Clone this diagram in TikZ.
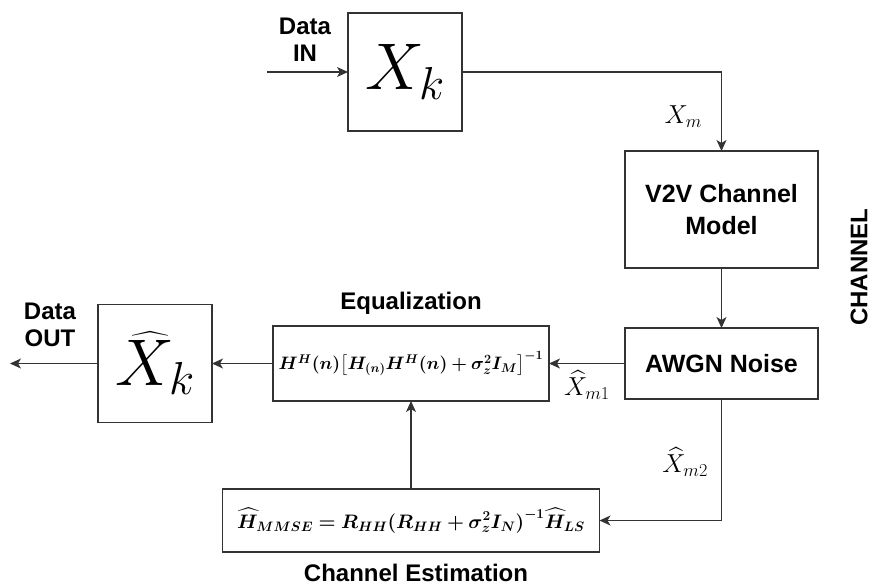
\documentclass[tikz,border=0pt]{standalone}
\usepackage{fix-cm}
\usepackage{amsmath}
\usepackage{bm}
\usepackage{fontspec}
\setmainfont{Liberation Sans}
\usetikzlibrary{arrows.meta, positioning}

\begin{document}
\begin{tikzpicture}[x=1pt, y=1pt,
    >={Stealth[length=11pt, width=10pt, inset=3pt]},
    blk/.style 2 args={
        draw=black!80, line width=1.2pt,
        minimum width=#1, minimum height=#2,
        inner sep=0pt, outer sep=0pt,
        align=center,
        font=\fontsize{25}{32}\selectfont\bfseries
    },
    wire/.style={draw=black!80, line width=1.2pt},
    lbl/.style={font=\fontsize{24}{27}\selectfont\bfseries, align=center, inner sep=0pt},
    sym/.style={font=\fontsize{26}{30}\selectfont, inner sep=1pt},
    big/.style={font=\fontsize{66}{70}\selectfont}
]

\useasboundingbox (0,0) rectangle (872,-587);

% =========================
% TRANSMITTER
% =========================
\node[blk={114pt}{118pt}, big] (XK) at (405,-72) {$X_k$};
\coordinate[left=81pt of XK.west] (IN);
\draw[wire, ->] (IN) -- (XK.west);
\node[lbl] (DIN) at (305,-40) {Data\\IN};

% =========================
% CHANNEL
% =========================
\node[blk={193pt}{71pt}] (AWGN) at (721.5,-363.5) {AWGN Noise};
\node[blk={193pt}{117pt}, above=60pt of AWGN] (V2V) {V2V Channel\\Model};
\node[lbl, rotate=90] (CH) at (859,-267) {CHANNEL};

\draw[wire, ->] (XK.east) -| (V2V.north)
node[pos=0.78, left=18pt, sym]{$X_m$};

\draw[wire, ->] (V2V) -- (AWGN);

% =========================
% RECEIVER
% =========================
\node[blk={276pt}{75pt}, left=76pt of AWGN] (EQ)
 {\fontsize{18}{22}\selectfont
  $\bm{H^H(n)\bigl[H_{(n)}H^H(n)+\sigma_z^2 I_M\bigr]^{-1}}$};
\node[lbl] (EQT) at (411,-303) {Equalization};

\node[blk={114pt}{118pt}, left=61pt of EQ, big] (XH) {$\widehat{X}_k$};
\coordinate[left=88pt of XH.west] (OUT);
\node[lbl] (DOUT) at (50,-325) {Data\\OUT};

\node[blk={377pt}{63pt}, below=88pt of EQ] (CE)
 {\fontsize{19.5}{24}\selectfont
  $\bm{\widehat{H}_{MMSE}=R_{HH}(R_{HH}+\sigma_z^2 I_N)^{-1}\widehat{H}_{LS}}$};
\node[lbl] (CET) at (416,-573) {Channel Estimation};

\draw[wire, ->] (AWGN) -- (EQ)
node[midway, below=5pt, sym]{$\widehat{X}_{m1}$};

\draw[wire, ->] (EQ) -- (XH);
\draw[wire, ->] (XH.west) -- (OUT);

% estimation loop
\draw[wire, ->] (AWGN.south) |- (CE.east)
node[pos=0.26, left=12pt, sym]{$\widehat{X}_{m2}$};

\draw[wire, ->] (CE) -- (EQ);

\end{tikzpicture}
\end{document}
